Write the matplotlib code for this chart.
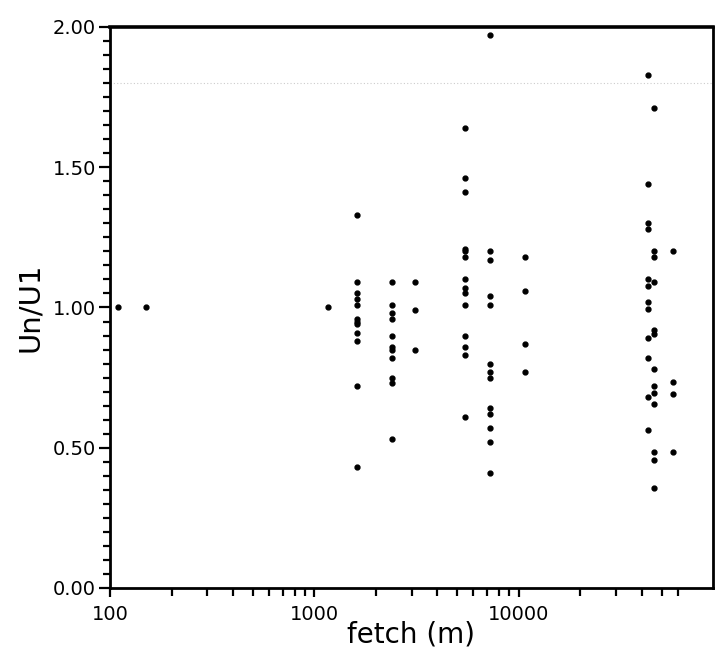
import matplotlib
matplotlib.use("Agg")
import matplotlib.pyplot as plt
from matplotlib.ticker import FixedLocator, FixedFormatter, NullFormatter

# ---- data ----
fetch_a = [110, 150, 1170]
ratio_a = [1.00, 1.00, 1.00]

fetch_b = 1620
ratio_b = [1.33, 1.09, 1.05, 1.03, 1.01, 0.96, 0.95, 0.94, 0.91, 0.88, 0.72, 0.43]

fetch_c = 2390
ratio_c = [1.09, 1.01, 0.98, 0.96, 0.90, 0.86, 0.85, 0.82, 0.75, 0.73, 0.53]

fetch_d = 3100
ratio_d = [1.09, 0.99, 0.85]

fetch_e = 5430
ratio_e = [1.64, 1.46, 1.41, 1.21, 1.20, 1.18, 1.10, 1.07, 1.05, 1.01, 0.90, 0.86, 0.83, 0.61]

fetch_f = 7240
ratio_f = [1.97, 1.20, 1.17, 1.04, 1.01, 0.80, 0.77, 0.75, 0.64, 0.62, 0.57, 0.52, 0.41]

fetch_g = 10700
ratio_g = [1.18, 1.06, 0.87, 0.77]

fetch_h = 43000
ratio_h = [1.83, 1.44, 1.30, 1.28, 1.10, 1.075, 1.02, 0.995, 0.89, 0.82, 0.68, 0.565]

fetch_i = 46000
ratio_i = [1.71, 1.20, 1.18, 1.09, 0.92, 0.905, 0.78, 0.72, 0.695, 0.656, 0.486, 0.456, 0.355]

fetch_j = 56700
ratio_j = [1.20, 0.735, 0.69, 0.485]

x_major = [100, 1000, 10000]
x_major_labels = ["100", "1000", "10000"]
x_minor = [200, 300, 400, 500, 600, 700, 800, 900,
           2000, 3000, 4000, 5000, 6000, 7000, 8000, 9000,
           20000, 30000, 40000, 50000, 60000]
y_major = [0.0, 0.5, 1.0, 1.5, 2.0]
y_major_labels = ["0.00", "0.50", "1.00", "1.50", "2.00"]
y_minor = [i * 0.05 for i in range(41)]

# ---- assemble ----
xs = list(fetch_a)
ys = list(ratio_a)
for fx, rr in [(fetch_b, ratio_b), (fetch_c, ratio_c), (fetch_d, ratio_d),
               (fetch_e, ratio_e), (fetch_f, ratio_f), (fetch_g, ratio_g),
               (fetch_h, ratio_h), (fetch_i, ratio_i), (fetch_j, ratio_j)]:
    xs += [fx] * len(rr)
    ys += rr

plt.rcParams['font.family'] = ['DejaVu Sans']
fig = plt.figure(figsize=(7.15, 6.55), dpi=100)
ax = fig.add_axes([0.1538, 0.1023, 0.997 - 0.1538, 0.9588 - 0.1023])

ax.axhline(1.80, color="#cccccc", lw=0.8, ls=(0, (1, 2)), zorder=0)
ax.plot(xs, ys, "o", color="black", ms=3.5, mec="black", zorder=3)

ax.set_xscale("log")
ax.set_xlim(100, 89000)
ax.set_ylim(0, 2.0)

ax.xaxis.set_major_locator(FixedLocator(x_major))
ax.xaxis.set_major_formatter(FixedFormatter(x_major_labels))
ax.xaxis.set_minor_locator(FixedLocator(x_minor))
ax.xaxis.set_minor_formatter(NullFormatter())
ax.yaxis.set_major_locator(FixedLocator(y_major))
ax.yaxis.set_major_formatter(FixedFormatter(y_major_labels))
ax.yaxis.set_minor_locator(FixedLocator(y_minor))

for s in ax.spines.values():
    s.set_linewidth(2.0)
    s.set_color("black")
ax.spines["top"].set_linewidth(2.6)

ax.tick_params(axis="x", which="major", direction="out", length=6.5, width=1.6,
               labelsize=14, pad=6)
ax.tick_params(axis="x", which="minor", direction="out", length=5.5, width=1.6)
ax.tick_params(axis="y", which="major", direction="out", length=8, width=1.6,
               labelsize=14, pad=2)
ax.tick_params(axis="y", which="minor", direction="out", length=5, width=1.6)

ax.set_xlabel("fetch (m)", fontsize=20, labelpad=-3)
ax.set_ylabel("Un/U1", fontsize=21, labelpad=6)

fig.savefig("out.png", dpi=100)
